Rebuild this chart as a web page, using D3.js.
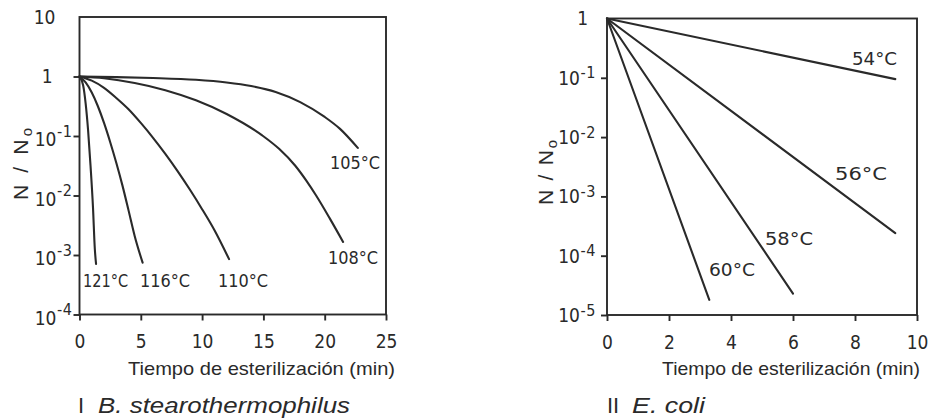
<!DOCTYPE html>
<html>
<head>
<meta charset="utf-8">
<script src="https://cdn.jsdelivr.net/npm/d3@7/dist/d3.min.js"></script>
<style>
  html, body { margin: 0; padding: 0; background: #fff; }
  svg { display: block; }
</style>
</head>
<body>
<svg id="chart" width="931" height="419"></svg>
<script>
// ---------------- DATA ----------------
// Panel I: B. stearothermophilus  (time in min, log10(N/No))
const bsLabels = ["121°C", "116°C", "110°C", "108°C", "105°C"];
const bsT121 = [0, 0.3, 0.5, 0.7, 0.9, 1.1, 1.25, 1.35];
const bsL121 = [0, -0.15, -0.45, -0.9, -1.5, -2.2, -2.9, -3.15];
const bsT116 = [0, 0.5, 1, 1.5, 2, 2.5, 3, 3.5, 4, 4.5, 5.15];
const bsL116 = [0, -0.1, -0.27, -0.5, -0.78, -1.1, -1.45, -1.83, -2.25, -2.68, -3.13];
const bsT110 = [0, 1, 2, 3, 4, 5, 6, 7, 8, 9, 10, 11, 12.2];
const bsL110 = [0, -0.07, -0.19, -0.36, -0.55, -0.78, -1.03, -1.3, -1.59, -1.9, -2.23, -2.58, -3.07];
const bsT108 = [0, 2, 4.5, 7, 9.5, 12, 14.9, 16.3, 17.6, 18.5, 19.3, 20.4, 21.5];
const bsL108 = [0, -0.03, -0.11, -0.23, -0.4, -0.63, -0.99, -1.22, -1.5, -1.75, -2.0, -2.38, -2.78];
const bsT105 = [0, 3, 6, 9.5, 12, 14, 16, 18, 20, 21.25, 22.7];
const bsL105 = [0, -0.01, -0.025, -0.055, -0.1, -0.16, -0.26, -0.43, -0.68, -0.88, -1.2];

// Panel II: E. coli  (straight lines from (0,1))
const ecLabels = ["54°C", "56°C", "58°C", "60°C"];
const ecT = [[0, 9.3], [0, 9.3], [0, 6.0], [0, 3.3]];
const ecN = [[1, 0.095], [1, 2.4e-4], [1, 2.3e-5], [1, 1.8e-5]];

// Ticks
const bsXTicks = [0, 5, 10, 15, 20, 25];
const bsYTicks = [10, 1, 1e-1, 1e-2, 1e-3, 1e-4];
const bsYBase = ["10", "1", "10", "10", "10", "10"];
const bsYExp = ["", "", "-1", "-2", "-3", "-4"];
const ecXTicks = [0, 2, 4, 6, 8, 10];
const ecYTicks = [1, 1e-1, 1e-2, 1e-3, 1e-4, 1e-5];
const ecYBase = ["1", "10", "10", "10", "10", "10"];
const ecYExp = ["", "-1", "-2", "-3", "-4", "-5"];

const xTitle = "Tiempo de esterilización (min)";
const yTitleMain = "N / N";
const yTitleSub = "o";

// ---------------- DRAW ----------------
const svg = d3.select("#chart");
const INK = "#2a2a2a";
const NARROW = "'Liberation Sans Narrow','DejaVu Sans Condensed','Liberation Sans',Arial,sans-serif";
const SANS = "'Liberation Sans',Arial,sans-serif";

function panel(cfg) {
  const x = d3.scaleLinear().domain(cfg.xDomain).range([cfg.left, cfg.right]);
  const y = d3.scaleLog().domain(cfg.yDomain).range([cfg.bottom, cfg.top]);
  const g = svg.append("g");

  // frame
  g.append("rect")
    .attr("x", cfg.left).attr("y", cfg.top)
    .attr("width", cfg.right - cfg.left).attr("height", cfg.bottom - cfg.top)
    .attr("fill", "none").attr("stroke", INK).attr("stroke-width", 1.9);

  // x axis
  const xa = g.append("g").attr("transform", `translate(0,${cfg.bottom})`)
    .call(d3.axisBottom(x).tickValues(cfg.xTicks).tickSize(6).tickPadding(cfg.xPad).tickFormat(d3.format("d")));
  xa.select(".domain").remove();
  xa.selectAll("line").attr("stroke", INK).attr("stroke-width", 1.9);
  xa.selectAll("text").attr("fill", INK).style("font-family", NARROW).style("font-size", "19px");

  // y axis ticks (labels drawn separately for superscripts)
  const ya = g.append("g").attr("transform", `translate(${cfg.left},0)`)
    .call(d3.axisLeft(y).tickValues(cfg.yTicks.filter(v => v !== cfg.yDomain[1])).tickSize(6).tickFormat(""));
  ya.select(".domain").remove();
  ya.selectAll("line").attr("stroke", INK).attr("stroke-width", 1.9);

  cfg.yTicks.forEach((v, i) => {
    const yy = y(v);
    const hasExp = cfg.yExp[i] !== "";
    const bx = hasExp ? cfg.left - cfg.baseOff : cfg.left - (cfg.yBase[i] === "1" ? cfg.oneOff : cfg.tenOff);
    g.append("text")
      .attr("x", bx).attr("y", yy + (hasExp ? cfg.baseDy : 6.5))
      .attr("text-anchor", "end").attr("fill", INK)
      .style("font-family", NARROW).style("font-size", "19px")
      .text(cfg.yBase[i]);
    if (hasExp) {
      g.append("text")
        .attr("x", bx + 0.5).attr("y", yy + 0.5)
        .attr("fill", INK)
        .style("font-family", NARROW).style("font-size", "16px")
        .style("letter-spacing", "0.5px")
        .text(cfg.yExp[i]);
    }
  });

  // curves
  const line = d3.line()
    .x(d => x(d[0])).y(d => y(Math.pow(10, d[1])))
    .curve(d3.curveMonotoneX);
  const lineN = d3.line().x(d => x(d[0])).y(d => y(d[1]));
  cfg.series.forEach(s => {
    g.append("path")
      .attr("d", s.log ? line(s.pts) : lineN(s.pts))
      .attr("fill", "none").attr("stroke", INK).attr("stroke-width", 2.1)
      .attr("stroke-linecap", "round");
  });

  // series labels
  cfg.labels.forEach(l => {
    g.append("text")
      .attr("x", l.x).attr("y", l.y)
      .attr("fill", INK)
      .attr("textLength", l.w).attr("lengthAdjust", "spacingAndGlyphs")
      .style("font-family", NARROW).style("font-size", "18px")
      .text(l.text);
  });

  // x title
  g.append("text")
    .attr("x", cfg.xtX).attr("y", 375)
    .attr("fill", INK)
    .attr("textLength", cfg.xtW).attr("lengthAdjust", "spacingAndGlyphs")
    .style("font-family", SANS).style("font-size", "19px")
    .text(xTitle);

  // y title (rotated)
  const yt = g.append("text")
    .attr("transform", `translate(${cfg.ytX},${cfg.ytY}) rotate(-90)`)
    .attr("fill", INK)
    .style("font-family", SANS).style("font-size", "21px")
    .attr("textLength", cfg.ytW).attr("lengthAdjust", "spacing");
  yt.append("tspan").text(yTitleMain);
  yt.append("tspan").attr("dy", 4).style("font-size", "15px").text(yTitleSub);

  // panel title
  const pt = g.append("text")
    .attr("x", cfg.ptX).attr("y", 413)
    .attr("fill", INK)
    .style("font-family", SANS).style("font-size", "22px");
  pt.append("tspan").text(cfg.roman);
  pt.append("tspan").attr("x", cfg.ptItX).style("font-style", "italic")
    .attr("textLength", cfg.ptItW).attr("lengthAdjust", "spacingAndGlyphs")
    .text(cfg.species);
}

const zip = (t, l) => t.map((v, i) => [v, l[i]]);

panel({
  left: 79.5, right: 386, top: 17, bottom: 314.5,
  xDomain: [0, 25], yDomain: [1e-4, 10],
  xTicks: bsXTicks, xPad: 14,
  yTicks: bsYTicks, yBase: bsYBase, yExp: bsYExp,
  baseOff: 23, oneOff: 27, tenOff: 24, baseDy: 10,
  series: [
    { log: true, pts: zip(bsT121, bsL121) },
    { log: true, pts: zip(bsT116, bsL116) },
    { log: true, pts: zip(bsT110, bsL110) },
    { log: true, pts: zip(bsT108, bsL108) },
    { log: true, pts: zip(bsT105, bsL105) }
  ],
  labels: [
    { text: bsLabels[0], x: 83, y: 287, w: 45 },
    { text: bsLabels[1], x: 140, y: 287, w: 50 },
    { text: bsLabels[2], x: 218, y: 287, w: 50 },
    { text: bsLabels[3], x: 328, y: 264, w: 50 },
    { text: bsLabels[4], x: 330, y: 169, w: 50 }
  ],
  xtX: 128, xtW: 267,
  ytX: 28, ytY: 200, ytW: 72,
  ptX: 78, ptItX: 98, ptItW: 252, roman: "I", species: "B. stearothermophilus"
});

panel({
  left: 607, right: 917, top: 18.5, bottom: 315,
  xDomain: [0, 10], yDomain: [1e-5, 1],
  xTicks: ecXTicks, xPad: 15,
  yTicks: ecYTicks, yBase: ecYBase, yExp: ecYExp,
  baseOff: 27, oneOff: 19, tenOff: 24, baseDy: 7,
  series: ecT.map((t, i) => ({ log: false, pts: zip(t, ecN[i]) })),
  labels: [
    { text: ecLabels[0], x: 852, y: 65, w: 45 },
    { text: ecLabels[1], x: 835, y: 180, w: 52 },
    { text: ecLabels[2], x: 765, y: 245, w: 48 },
    { text: ecLabels[3], x: 709, y: 276, w: 46 }
  ],
  xtX: 662, xtW: 258,
  ytX: 553, ytY: 205, ytW: 65,
  ptX: 607, ptItX: 632, ptItW: 73, roman: "II", species: "E. coli"
});
</script>
</body>
</html>
